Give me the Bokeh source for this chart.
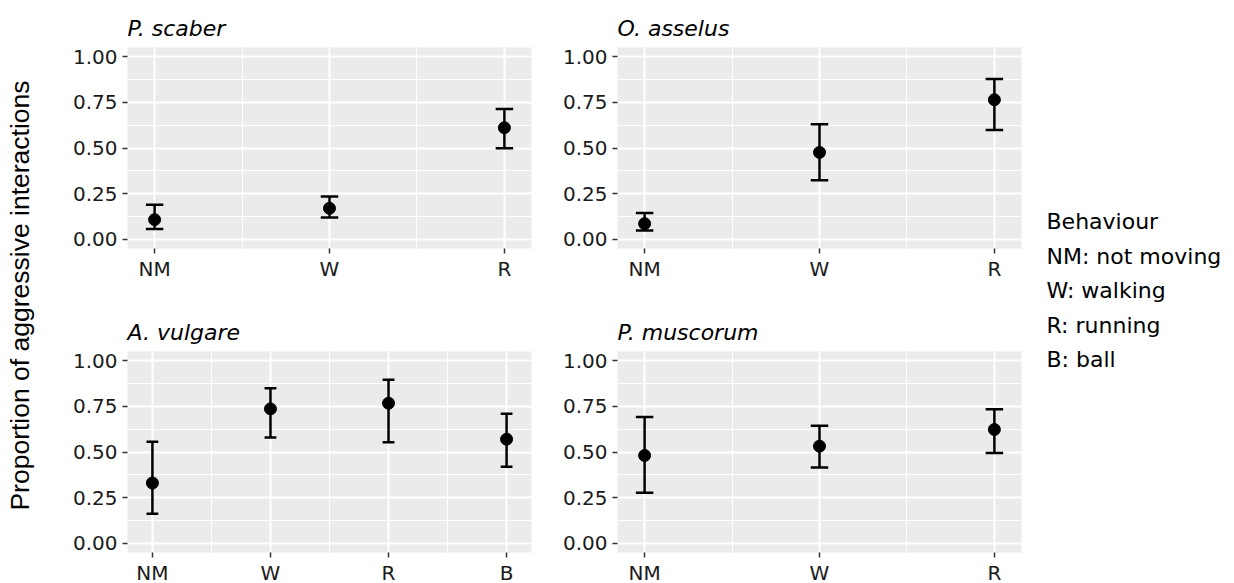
import math
from bokeh.plotting import figure
from bokeh.layouts import row, column
from bokeh.models import Range1d, FixedTicker
from bokeh.core.properties import value
from bokeh.embed import file_html
from bokeh.resources import INLINE

# ---------------- data ----------------
panel_titles = ["P. scaber", "O. asselus", "A. vulgare", "P. muscorum"]

p_scaber_cats = ["NM", "W", "R"]
p_scaber_mean = [0.108, 0.170, 0.611]
p_scaber_lower = [0.057, 0.119, 0.499]
p_scaber_upper = [0.190, 0.234, 0.713]

o_asselus_cats = ["NM", "W", "R"]
o_asselus_mean = [0.086, 0.476, 0.764]
o_asselus_lower = [0.049, 0.323, 0.599]
o_asselus_upper = [0.144, 0.630, 0.877]

a_vulgare_cats = ["NM", "W", "R", "B"]
a_vulgare_mean = [0.330, 0.736, 0.767, 0.570]
a_vulgare_lower = [0.162, 0.579, 0.554, 0.419]
a_vulgare_upper = [0.556, 0.849, 0.896, 0.710]

p_muscorum_cats = ["NM", "W", "R"]
p_muscorum_mean = [0.481, 0.532, 0.623]
p_muscorum_lower = [0.277, 0.415, 0.494]
p_muscorum_upper = [0.692, 0.643, 0.734]

y_ticks = [0.0, 0.25, 0.5, 0.75, 1.0]
y_tick_labels = ["0.00", "0.25", "0.50", "0.75", "1.00"]
y_minor = [0.125, 0.375, 0.625, 0.875]

y_axis_title = "Proportion of aggressive interactions"
legend_title = "Behaviour"
legend_lines = ["NM: not moving", "W: walking", "R: running", "B: ball"]

# ---------------- style ----------------
TICK_FONT = "DejaVu Sans"
PANEL_BG = "#EBEBEB"


def make_panel(title, cats, mean, lower, upper, pad, left, right, top, bottom):
    n = len(cats)
    xs = list(range(1, n + 1))
    p = figure(frame_width=404, frame_height=201,
               x_range=Range1d(1 - pad, n + pad), y_range=Range1d(-0.05, 1.05),
               output_backend="svg", toolbar_location=None,
               min_border_left=left, min_border_right=right,
               min_border_top=top, min_border_bottom=bottom)
    p.background_fill_color = PANEL_BG
    p.border_fill_color = "white"
    p.outline_line_color = None

    p.title.text = title
    p.title.text_font = TICK_FONT
    p.title.text_font_style = "italic"
    p.title.text_font_size = "22px"
    p.title.text_color = "#000000"
    p.title.align = "left"
    p.title.standoff = 14

    p.xaxis.ticker = FixedTicker(ticks=xs, minor_ticks=[x + 0.5 for x in xs[:-1]])
    p.xaxis.major_label_overrides = {x: c for x, c in zip(xs, cats)}
    p.yaxis.ticker = FixedTicker(ticks=y_ticks, minor_ticks=y_minor)
    p.yaxis.major_label_overrides = {t: l for t, l in zip(y_ticks, y_tick_labels)}

    for ax in (p.xaxis[0], p.yaxis[0]):
        ax.axis_line_color = None
        ax.major_tick_line_color = "#333333"
        ax.major_tick_line_width = 1.5
        ax.major_tick_out = 5
        ax.major_tick_in = 0
        ax.minor_tick_line_color = None
        ax.major_label_text_font = TICK_FONT
        ax.major_label_text_font_size = "20px"
        ax.major_label_text_color = "#1A1A1A"
    p.xaxis.major_label_standoff = 3
    p.yaxis.major_label_standoff = 5

    for g in (p.xgrid[0], p.ygrid[0]):
        g.grid_line_color = "white"
        g.grid_line_width = 2
        g.minor_grid_line_color = "white"
        g.minor_grid_line_width = 1

    half = 0.05
    p.segment(x0=xs, y0=lower, x1=xs, y1=upper, line_color="black", line_width=2.5)
    p.segment(x0=[x - half for x in xs], y0=upper, x1=[x + half for x in xs], y1=upper,
              line_color="black", line_width=2.5)
    p.segment(x0=[x - half for x in xs], y0=lower, x1=[x + half for x in xs], y1=lower,
              line_color="black", line_width=2.5)
    p.scatter(x=xs, y=mean, size=12, color="black")
    return p


PAD3 = 0.155
PAD4 = 0.211
tl = make_panel(panel_titles[0], p_scaber_cats, p_scaber_mean, p_scaber_lower, p_scaber_upper,
                PAD3, 87, 20, 47, 40)
tr = make_panel(panel_titles[1], o_asselus_cats, o_asselus_mean, o_asselus_lower, o_asselus_upper,
                PAD3, 66, 5, 47, 40)
bl = make_panel(panel_titles[2], a_vulgare_cats, a_vulgare_mean, a_vulgare_lower, a_vulgare_upper,
                PAD4, 87, 20, 63, 31)
br = make_panel(panel_titles[3], p_muscorum_cats, p_muscorum_mean, p_muscorum_lower, p_muscorum_upper,
                PAD3, 66, 5, 63, 31)

H = 583

# y-axis title strip
lab = figure(width=40, height=H, x_range=Range1d(0, 40), y_range=Range1d(0, H),
             output_backend="svg", toolbar_location=None, min_border=0,
             x_axis_type=None, y_axis_type=None)
lab.outline_line_color = None
lab.grid.visible = False
lab.text(x=[19], y=[H - 295], text=[y_axis_title], angle=math.pi / 2,
         text_align="center", text_baseline="middle",
         text_font=value("Liberation Sans"), text_font_size="26.5px", text_color="#000000")

# legend strip
LW = 208
leg = figure(width=LW, height=H, x_range=Range1d(0, LW), y_range=Range1d(0, H),
             output_backend="svg", toolbar_location=None, min_border=0,
             x_axis_type=None, y_axis_type=None)
leg.outline_line_color = None
leg.grid.visible = False
all_lines = [legend_title] + legend_lines
ys = [H - (221 + 34.5 * i) for i in range(len(all_lines))]
leg.text(x=[20] * len(all_lines), y=ys, text=all_lines,
         text_align="left", text_baseline="middle",
         text_font=value(TICK_FONT), text_font_size="22px", text_color="#000000")

layout = row(lab, column(row(tl, tr), row(bl, br)), leg)

open("out.html", "w").write(file_html(layout, INLINE))
